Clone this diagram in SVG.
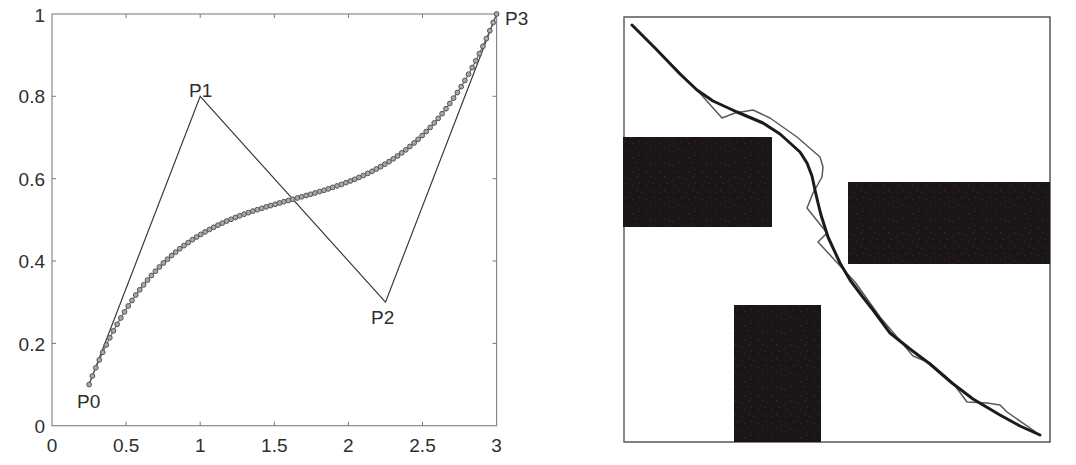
<svg xmlns="http://www.w3.org/2000/svg" width="1076" height="465" viewBox="0 0 1076 465">
  <defs>
    <style>
      .axis { stroke: #8a8a8a; stroke-width: 1.2; fill: none; }
      .tick { stroke: #777; stroke-width: 1; }
      .lbl { font-family: "Liberation Sans", Arial, sans-serif; font-size: 19px; fill: #2e2e2e; }
      .ylbl { text-anchor: end; dominant-baseline: central; }
      .xlbl { text-anchor: middle; }
      .poly { stroke: #3a3a3a; stroke-width: 1.2; fill: none; stroke-linejoin: miter; }
      .bez { stroke: #666; stroke-width: 1.2; fill: none; marker-start: url(#dot); marker-mid: url(#dot); marker-end: url(#dot); }
      .frame { fill: #fff; stroke: #3c3c3c; stroke-width: 1.3; }
      .block { fill: url(#noise); }
      .thick { stroke: #1b1b1b; stroke-width: 3; fill: none; stroke-linejoin: round; stroke-linecap: round; }
      .thin { stroke: #5a5a5a; stroke-width: 1.5; fill: none; stroke-linejoin: round; }
    </style>
    <marker id="dot" markerUnits="userSpaceOnUse" markerWidth="8" markerHeight="8" refX="4" refY="4" viewBox="0 0 8 8">
      <circle cx="4" cy="4" r="2.4" fill="#a8a8a8" stroke="#555555" stroke-width="1"/>
    </marker>
    <pattern id="noise" patternUnits="userSpaceOnUse" width="14" height="14">
      <rect width="14" height="14" fill="#1a1617"/>
      <rect x="2" y="3" width="1.2" height="1.2" fill="#4a2a2c"/>
      <rect x="9" y="1" width="1" height="1" fill="#3a2a22"/>
      <rect x="6" y="8" width="1.3" height="1.3" fill="#452428"/>
      <rect x="11" y="10" width="1" height="1" fill="#2f2a33"/>
      <rect x="1" y="11" width="1" height="1" fill="#3c2626"/>
    </pattern>
  </defs>

  <rect width="1076" height="465" fill="#ffffff"/>

  <!-- Left plot: axes -->
  <g id="left-axes">
    <rect x="52" y="14" width="444.6" height="411.7" class="axis"/>
    <g class="tick">
      <line x1="126.1" y1="425.7" x2="126.1" y2="421.7"/>
      <line x1="200.2" y1="425.7" x2="200.2" y2="421.7"/>
      <line x1="274.3" y1="425.7" x2="274.3" y2="421.7"/>
      <line x1="348.4" y1="425.7" x2="348.4" y2="421.7"/>
      <line x1="422.5" y1="425.7" x2="422.5" y2="421.7"/>
      <line x1="126.1" y1="14" x2="126.1" y2="18"/>
      <line x1="200.2" y1="14" x2="200.2" y2="18"/>
      <line x1="274.3" y1="14" x2="274.3" y2="18"/>
      <line x1="348.4" y1="14" x2="348.4" y2="18"/>
      <line x1="422.5" y1="14" x2="422.5" y2="18"/>
      <line x1="52" y1="343.4" x2="56" y2="343.4"/>
      <line x1="52" y1="261.0" x2="56" y2="261.0"/>
      <line x1="52" y1="178.7" x2="56" y2="178.7"/>
      <line x1="52" y1="96.3" x2="56" y2="96.3"/>
      <line x1="496.6" y1="343.4" x2="492.6" y2="343.4"/>
      <line x1="496.6" y1="261.0" x2="492.6" y2="261.0"/>
      <line x1="496.6" y1="178.7" x2="492.6" y2="178.7"/>
      <line x1="496.6" y1="96.3" x2="492.6" y2="96.3"/>
    </g>
    <g class="lbl ylbl">
      <text x="45" y="426">0</text>
      <text x="45" y="344">0.2</text>
      <text x="45" y="261.5">0.4</text>
      <text x="45" y="179">0.6</text>
      <text x="45" y="96.5">0.8</text>
      <text x="45" y="15">1</text>
    </g>
    <g class="lbl xlbl">
      <text x="52" y="452">0</text>
      <text x="126.1" y="452">0.5</text>
      <text x="200.2" y="452">1</text>
      <text x="274.3" y="452">1.5</text>
      <text x="348.4" y="452">2</text>
      <text x="422.5" y="452">2.5</text>
      <text x="496.6" y="452">3</text>
    </g>
  </g>

  <!-- Connectors: control polygon and Bezier curve -->
  <g id="connectors">
    <polyline id="control-polygon" class="poly" points="89.05,384.5 200.2,96.3 385.5,302.2 496.6,14"/>
    <path id="bezier-curve" class="bez" d="M89.1,384.5 L92.4,376.0 L95.8,367.8 L99.3,359.9 L102.7,352.3 L106.3,344.9 L109.8,337.8 L113.4,330.9 L117.1,324.3 L120.8,318.0 L124.5,311.9 L128.2,306.0 L132.0,300.4 L135.8,295.0 L139.7,289.8 L143.6,284.9 L147.5,280.1 L151.4,275.5 L155.4,271.2 L159.4,267.0 L163.4,263.0 L167.5,259.2 L171.6,255.5 L175.7,252.1 L179.8,248.7 L184.0,245.6 L188.2,242.6 L192.4,239.7 L196.6,237.0 L200.8,234.4 L205.1,231.9 L209.4,229.5 L213.7,227.3 L218.0,225.1 L222.3,223.1 L226.6,221.1 L231.0,219.3 L235.4,217.5 L239.7,215.8 L244.1,214.2 L248.5,212.6 L252.9,211.1 L257.3,209.7 L261.8,208.3 L266.2,206.9 L270.6,205.6 L275.1,204.3 L279.5,203.0 L283.9,201.7 L288.4,200.5 L292.8,199.3 L297.3,198.0 L301.7,196.8 L306.2,195.5 L310.6,194.3 L315.0,193.0 L319.5,191.6 L323.9,190.3 L328.3,188.9 L332.7,187.4 L337.1,185.9 L341.5,184.4 L345.9,182.7 L350.3,181.0 L354.7,179.3 L359.0,177.4 L363.3,175.5 L367.7,173.4 L372.0,171.3 L376.3,169.0 L380.6,166.7 L384.8,164.2 L389.1,161.6 L393.3,158.8 L397.5,156.0 L401.7,152.9 L405.8,149.8 L409.9,146.5 L414.1,143.0 L418.1,139.3 L422.2,135.5 L426.2,131.5 L430.2,127.4 L434.2,123.0 L438.2,118.4 L442.1,113.7 L446.0,108.7 L449.8,103.5 L453.6,98.1 L457.4,92.5 L461.2,86.6 L464.9,80.5 L468.6,74.2 L472.2,67.6 L475.8,60.8 L479.4,53.6 L482.9,46.3 L486.4,38.6 L489.8,30.7 L493.2,22.5 L496.6,14.0"/>
  </g>

  <!-- Control point labels -->
  <g id="P0"><text class="lbl" x="77" y="408">P0</text></g>
  <g id="P1"><text class="lbl" x="189" y="97">P1</text></g>
  <g id="P2"><text class="lbl" x="371" y="324">P2</text></g>
  <g id="P3"><text class="lbl" x="505" y="25">P3</text></g>

  <!-- Right plot -->
  <g id="right-plot">
    <rect class="frame" x="624" y="17" width="426" height="425"/>
    <line x1="624" y1="17" x2="624" y2="442" stroke="#8c8c8c" stroke-width="1.2"/>
  </g>
  <g id="obstacle-1"><rect class="block" x="623" y="137" width="149" height="90"/></g>
  <g id="obstacle-2"><rect class="block" x="848" y="182" width="202" height="82"/></g>
  <g id="obstacle-3"><rect class="block" x="734" y="305" width="87" height="137"/></g>

  <g id="paths">
    <polyline class="thin" points="632,25 697,90 722,118 735,113 753,110 770,118 797,137 820,157 823,167 822,177 813,193 807,208 827,233 818,242 855,282 880,317 913,356 930,363 953,383 967,402 987,403 1000,405 1007,412 1040,435"/>
    <polyline class="thick" points="632,25 656,49 680,74 697,90 713,101 737,112 763,123 780,134 790,143 800,152 807,163 812,176 815,190 818,203 821,215 828,237 840,263 850,280 862,296 873,310 890,333 910,349 930,364 952,383 973,399 1000,415 1020,426 1040,435"/>
  </g>
</svg>
